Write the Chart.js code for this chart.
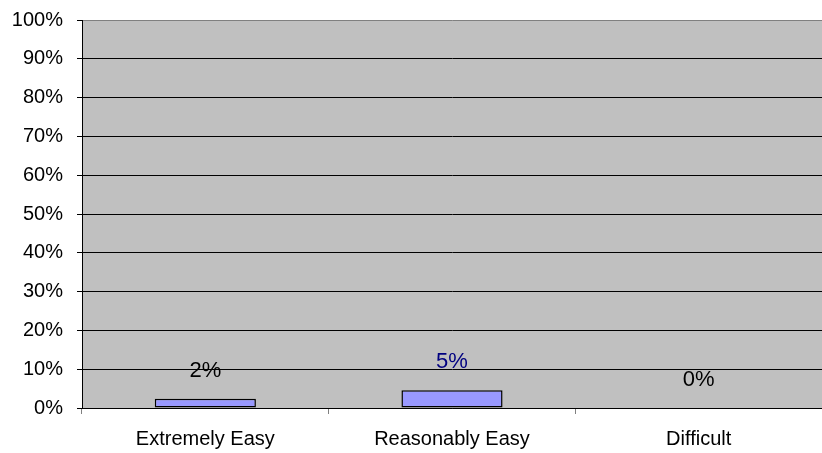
<!DOCTYPE html>
<html>
<head>
<meta charset="utf-8">
<script src="https://cdn.jsdelivr.net/npm/chart.js@4/dist/chart.umd.min.js"></script>
<style>
  html, body { margin: 0; padding: 0; background: #fff; }
  #wrap { width: 822px; height: 453px; }
</style>
</head>
<body>
<div id="wrap"><canvas id="myChart" width="822" height="453"></canvas></div>
<script>
var categories = ['Extremely Easy', 'Reasonably Easy', 'Difficult'];
var percentValues = [2.4, 4.6, 0];
var labelColors = ['#000000', '#000080', '#000000'];
var yTicks = [0, 10, 20, 30, 40, 50, 60, 70, 80, 90, 100];

var fontFamily = '"Liberation Sans", Arial, sans-serif';

// grey plot background behind the bars
var plotBackground = {
    id: 'plotBackground',
    beforeDraw: function(chart) {
        var a = chart.chartArea;
        var c = chart.ctx;
        c.save();
        c.fillStyle = '#C0C0C0';
        c.fillRect(a.left, a.top, a.right - a.left, a.bottom - a.top);
        c.restore();
    }
};

// value labels above each bar
var valueLabels = {
    id: 'valueLabels',
    afterDatasetsDraw: function(chart) {
        var c = chart.ctx;
        var meta = chart.getDatasetMeta(0);
        c.save();
        c.font = '22px ' + fontFamily;
        c.textAlign = 'center';
        c.textBaseline = 'middle';
        meta.data.forEach(function(bar, i) {
            c.fillStyle = labelColors[i];
            c.fillText(Math.round(percentValues[i]) + '%', bar.x, bar.y - 28);
        });
        c.restore();
    }
};

var ctx = document.getElementById('myChart').getContext('2d');
var myChart = new Chart(ctx, {
    type: 'bar',
    data: {
        labels: categories,
        datasets: [{
            data: percentValues,
            backgroundColor: '#9999FF',
            borderColor: '#000000',
            borderWidth: 1.5,
            borderSkipped: false,
            categoryPercentage: 1,
            barPercentage: 0.41
        }]
    },
    options: {
        responsive: false,
        animation: false,
        layout: { padding: { top: 20, left: 0, right: 0, bottom: 0 } },
        plugins: {
            legend: { display: false },
            tooltip: { enabled: false }
        },
        scales: {
            x: {
                grid: {
                    drawOnChartArea: false,
                    tickLength: 6,
                    tickColor: '#808080',
                    offset: true
                },
                border: { color: '#000000', width: 1 },
                ticks: {
                    color: '#000000',
                    font: { family: fontFamily, size: 20 },
                    padding: 13,
                    maxRotation: 0
                },
                afterFit: function(scale) { scale.height = 45; }
            },
            y: {
                min: 0,
                max: 100,
                afterBuildTicks: function(scale) {
                    scale.ticks = yTicks.map(function(v) { return { value: v }; });
                },
                grid: {
                    color: function(c) { return c.tick && c.tick.value === 100 ? '#808080' : '#000000'; },
                    tickColor: '#000000',
                    tickLength: 5,
                    lineWidth: 1
                },
                border: { color: '#000000', width: 1 },
                ticks: {
                    color: '#000000',
                    font: { family: fontFamily, size: 20 },
                    padding: 14,
                    callback: function(v) { return v + '%'; }
                },
                afterFit: function(scale) {
                    scale.width = 82;
                    scale.paddingTop = 0;
                    scale.paddingBottom = 0;
                }
            }
        }
    },
    plugins: [plotBackground, valueLabels]
});
</script>
</body>
</html>
